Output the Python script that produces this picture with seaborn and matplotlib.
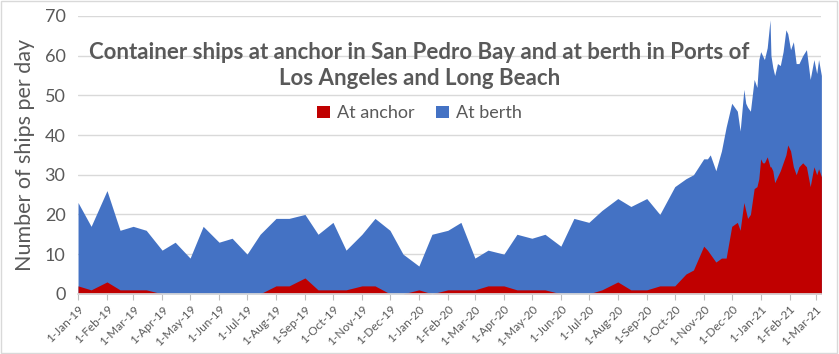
import pandas as pd
import matplotlib.pyplot as plt
import matplotlib.dates as mdates
from matplotlib.patches import Rectangle
import seaborn as sns

# ---------------------------------------------
# data
# ---------------------------------------------

# semi-monthly counts, Jan 2019 - Oct 2020
dates_early = [
    "2019-01-01", "2019-01-15", "2019-02-01", "2019-02-15", "2019-03-01", "2019-03-15",
    "2019-04-01", "2019-04-15", "2019-05-01", "2019-05-15", "2019-06-01", "2019-06-15",
    "2019-07-01", "2019-07-15", "2019-08-01", "2019-08-15", "2019-09-01", "2019-09-15",
    "2019-10-01", "2019-10-15", "2019-11-01", "2019-11-15", "2019-12-01", "2019-12-15",
    "2020-01-01", "2020-01-15", "2020-02-01", "2020-02-15", "2020-03-01", "2020-03-15",
    "2020-04-01", "2020-04-15", "2020-05-01", "2020-05-15", "2020-06-01", "2020-06-15",
    "2020-07-01", "2020-07-15", "2020-08-01", "2020-08-15", "2020-09-01", "2020-09-15",
    "2020-10-01",
]
total_early = [
    23, 17, 26, 16, 17, 16, 11, 13, 9, 17, 13, 14, 10, 15, 19, 19, 20, 15, 18, 11, 15, 19, 16, 10,
    7, 15, 16, 18, 9, 11, 10, 15, 14, 15, 12, 19, 18, 21, 24, 22, 24, 20,
    27,
]
anchor_early = [
    2, 1, 3, 1, 1, 1, 0, 0, 0, 0, 0, 0, 0, 0, 2, 2, 4, 1, 1, 1, 2, 2, 0, 0,
    1, 0, 1, 1, 1, 2, 2, 1, 1, 1, 0, 0, 0, 1, 3, 1, 1, 2,
    2,
]

# denser counts, Oct 2020 - Mar 2021
dates_late = [
    "2020-10-13", "2020-10-21", "2020-11-01", "2020-11-05", "2020-11-08", "2020-11-14",
    "2020-11-20", "2020-11-25", "2020-12-01", "2020-12-07", "2020-12-10", "2020-12-14",
    "2020-12-16", "2020-12-18", "2020-12-21", "2020-12-25", "2020-12-28", "2020-12-30",
    "2021-01-01", "2021-01-03", "2021-01-05", "2021-01-08", "2021-01-11", "2021-01-12",
    "2021-01-14", "2021-01-16", "2021-01-19", "2021-01-22", "2021-01-25", "2021-01-28",
    "2021-01-30", "2021-02-02", "2021-02-05", "2021-02-08", "2021-02-11", "2021-02-15",
    "2021-02-19", "2021-02-23", "2021-02-27", "2021-03-02", "2021-03-04", "2021-03-07",
]
total_late = [
    29, 30, 34, 34, 35, 31, 36, 42, 48, 46, 41, 51.5,
    48, 47, 46, 54, 52, 59, 61, 60, 59, 62, 69, 60,
    57, 55, 58, 57.5, 61, 66.5, 65.5, 61.5, 63.5, 58, 58, 60,
    61.5, 54, 59, 55.5, 59, 55,
]
anchor_late = [
    5, 6, 12, 11, 10, 8, 9, 9, 17, 18, 16, 23,
    21, 19, 20, 26.5, 27, 29, 34, 33, 33, 34.5, 32, 32,
    31, 28, 29.5, 31, 33, 35, 37.5, 36, 32, 30, 32, 33,
    32, 27, 32, 30, 31.5, 29.5,
]

title = "Container ships at anchor in San Pedro Bay and at berth in Ports of\nLos Angeles and Long Beach"
ylabel = "Number of ships per day"

df = pd.DataFrame({
    "date": pd.to_datetime(dates_early + dates_late),
    "total": total_early + total_late,
    "anchor": anchor_early + anchor_late,
})

# ---------------------------------------------
# plot
# ---------------------------------------------

sns.set_theme(style="whitegrid")
plt.rcParams["font.family"] = ["Lato", "DejaVu Sans"]

GRAY = "#595959"
RED = "#C00000"
BLUE = "#4472C4"

fig = plt.figure(figsize=(8.39, 3.54), dpi=100)
ax = fig.add_axes([0.093, 0.170, 0.886, 0.785])

ax.fill_between(df["date"], 0, df["total"], color=BLUE, linewidth=0, label="At berth")
ax.fill_between(df["date"], 0, df["anchor"], color=RED, linewidth=0, label="At anchor")

ax.set_xlim(df["date"].iloc[0], df["date"].iloc[-1])
ax.set_ylim(0, 70)
ax.set_yticks(range(0, 71, 10))

ax.xaxis.set_major_locator(mdates.MonthLocator(bymonthday=1))
ax.xaxis.set_major_formatter(mdates.DateFormatter("1-%b-%y"))
plt.setp(ax.get_xticklabels(), rotation=45, ha="right", rotation_mode="anchor",
         fontsize=8.5, color=GRAY)
plt.setp(ax.get_yticklabels(), fontsize=13, color=GRAY)

ax.grid(axis="x", visible=False)
ax.grid(axis="y", color="#d9d9d9", linewidth=1)
ax.set_axisbelow(True)
for side in ["left", "right", "top"]:
    ax.spines[side].set_visible(False)
ax.spines["bottom"].set_color("#d9d9d9")
ax.tick_params(axis="x", length=4, width=0.8, color="#bfbfbf", pad=3, bottom=True)
ax.tick_params(axis="y", length=0, pad=9)

ax.set_ylabel(ylabel, fontsize=15.5, color=GRAY, labelpad=7)
ax.set_xlabel("")

fig.text(0.5, 0.815, title, ha="center", va="center", fontsize=16,
         fontweight="bold", color=GRAY, linespacing=1.3)

handles, labels = ax.get_legend_handles_labels()
fig.legend(handles[::-1], labels[::-1], loc="center", bbox_to_anchor=(0.5, 0.68),
           ncol=2, frameon=False, fontsize=13, labelcolor=GRAY,
           handlelength=0.7, handleheight=0.7, handletextpad=0.4, columnspacing=1.2)

fig.patches.append(Rectangle((0.001, 0.002), 0.997, 0.995, transform=fig.transFigure,
                             fill=False, edgecolor="#d9d9d9", linewidth=1))

fig.savefig("out.png", dpi=100)
